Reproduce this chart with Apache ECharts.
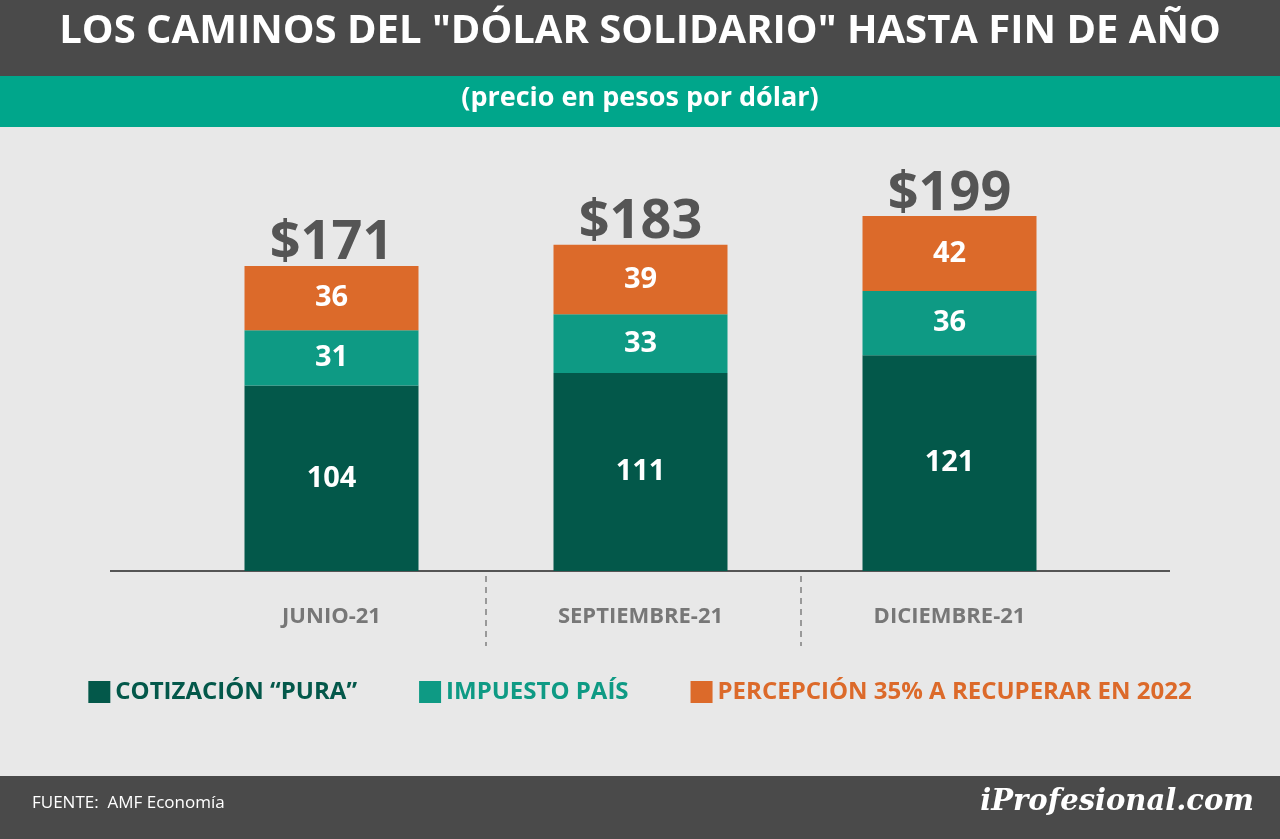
<!DOCTYPE html>
<html><head><meta charset="utf-8">
<script src="https://cdn.jsdelivr.net/npm/echarts@6/dist/echarts.min.js"></script>
<style>html,body{margin:0;padding:0;background:#e8e8e8}#c{width:1280px;height:839px}</style>
</head><body><div id="c"></div>
<script>
const categories = ['JUNIO-21', 'SEPTIEMBRE-21', 'DICIEMBRE-21'];
const pura = [104, 111, 121];
const impuesto = [31, 33, 36];
const percepcion = [36, 39, 42];
const totals = [171, 183, 199];
const seriesNames = ['COTIZACIÓN “PURA”', 'IMPUESTO PAÍS', 'PERCEPCIÓN 35% A RECUPERAR EN 2022'];
const colors = ['#03584a', '#0e9a84', '#dc6a2a'];

const chart = echarts.init(document.getElementById('c'));
const F = '"Open Sans", sans-serif';
const segLabel = {show: true, position: 'inside', color: '#fff', fontWeight: 'bold', fontSize: 29, fontFamily: F};
chart.setOption({
  backgroundColor: '#e8e8e8',
  animation: false,
  graphic: [
    {type: 'rect', shape: {x: 0, y: 0, width: 1280, height: 76}, style: {fill: '#4a4a4a'}},
    {type: 'rect', shape: {x: 0, y: 76, width: 1280, height: 51}, style: {fill: '#00a68b'}},
    {type: 'rect', shape: {x: 0, y: 776, width: 1280, height: 63}, style: {fill: '#4a4a4a'}},
    {type: 'text', left: 'center', top: 12, style: {text: 'LOS CAMINOS DEL "DÓLAR SOLIDARIO" HASTA FIN DE AÑO', fill: '#fff', font: 'bold 40px ' + F}},
    {type: 'text', left: 'center', top: 85, style: {text: '(precio en pesos por dólar)', fill: '#fff', font: 'bold 27px ' + F}},
    {type: 'text', left: 32, top: 795, style: {text: 'FUENTE:  AMF Economía', fill: '#fff', font: '17px ' + F}},
    {type: 'text', right: 26, top: 788, style: {text: 'iProfesional.com', fill: '#fff', font: 'italic bold 29px "DejaVu Serif", serif'}},
    {type: 'line', shape: {x1: 110, y1: 571, x2: 1170, y2: 571}, style: {stroke: '#555', lineWidth: 2}},
    {type: 'line', shape: {x1: 486, y1: 576, x2: 486, y2: 646}, style: {stroke: '#999', lineWidth: 2, lineDash: [6, 5]}},
    {type: 'line', shape: {x1: 801, y1: 576, x2: 801, y2: 646}, style: {stroke: '#999', lineWidth: 2, lineDash: [6, 5]}}
  ],
  legend: {
    top: 675, left: 'center', itemWidth: 22, itemHeight: 22, itemGap: 62, icon: 'rect',
    data: seriesNames.map((n, i) => ({name: n, textStyle: {color: colors[i], fontWeight: 'bold', fontSize: 24, fontFamily: F}}))
  },
  grid: {left: 177, right: 176, top: 143, bottom: 268},
  xAxis: {
    type: 'category', data: categories,
    axisLine: {show: false}, axisTick: {show: false},
    axisLabel: {color: '#777', fontWeight: 'bold', fontSize: 22, fontFamily: F, margin: 35}
  },
  yAxis: {type: 'value', min: 0, max: 240, show: false, splitLine: {show: false}},
  series: [
    {name: seriesNames[0], type: 'bar', stack: 's', barWidth: 174, data: pura, itemStyle: {color: colors[0]}, label: segLabel},
    {name: seriesNames[1], type: 'bar', stack: 's', data: impuesto, itemStyle: {color: colors[1]}, label: segLabel},
    {name: seriesNames[2], type: 'bar', stack: 's', data: percepcion, itemStyle: {color: colors[2]}, label: segLabel},
    {name: 'total', type: 'bar', stack: 's', data: totals.map(() => 0), itemStyle: {color: 'transparent'},
     label: {show: true, position: 'top', distance: -5, color: '#555', fontWeight: 'bold', fontSize: 54, fontFamily: F,
       formatter: p => '$' + totals[p.dataIndex]}}
  ]
});
</script></body></html>
